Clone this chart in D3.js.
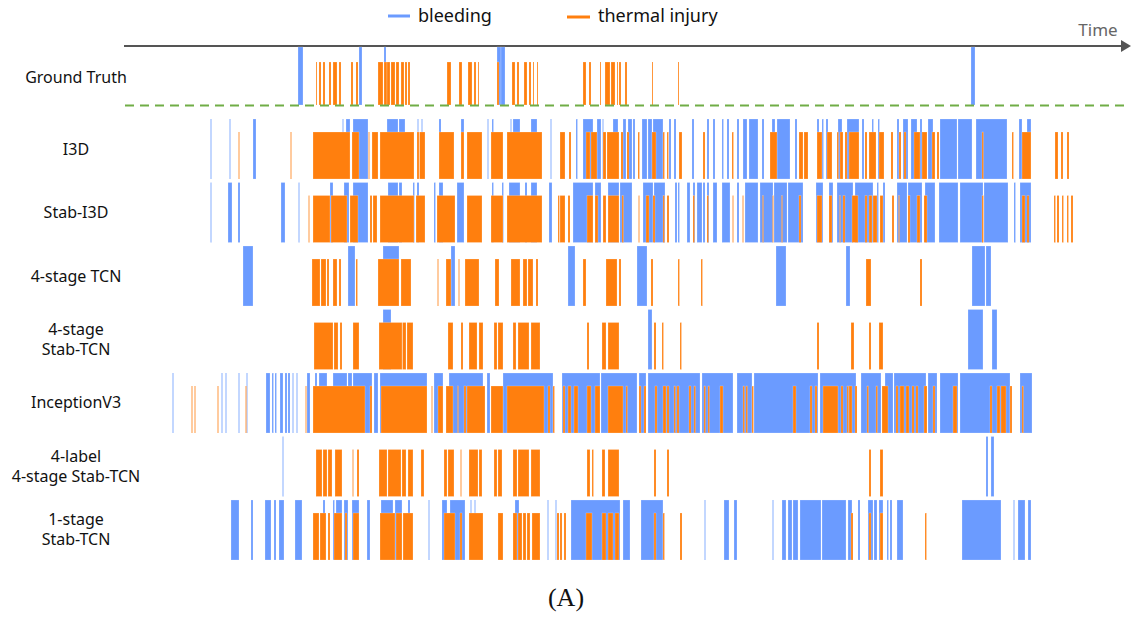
<!doctype html>
<html lang="en">
<head>
  <meta charset="utf-8">
  <style>
    body { margin: 0; background: #fff; }
    svg { display: block; }
  </style>
</head>
<body>
  <script src="https://d3js.org/d3.v7.min.js"></script>
  <div id="chart"></div>
  <script>
    // time unit = frame index (0..1000) along the arrow
    var gtBleed = [[173,178],[234,237],[259,261],[372,376],[376,380],[846,850]];
    var gtThermal = [[191,192],[194,196],[198,200],[204,206],[208,212],[214,216],[226,228],[231,233],[253,258],[259,262],[262,265],[266,270],[271,274],[276,279],[280,282],[283,285],[322,326],[334,337],[343,347],[349,351],[353,354],[372,374],[387,390],[392,394],[399,402],[404,406],[408,409],[412,413],[458,461],[464,466],[475,476],[480,485],[486,490],[492,493],[494,496],[500,502],[527,528],[553,554]];

    var i3dBleed = [[85.5,86.5],[104.5,105.5],[128,131],[217.5,218.5],[221,225],[228,243],[262,273],[274,280],[292.5,293.5],[296.5,297.5],[314,316],[336,339],[362.5,363.5],[367,368.5],[385.5,386.5],[388,395],[406,412],[425.5,426.5],[451,452.5],[458,468],[472,476],[477.5,478.5],[488,493],[498,501],[503,507],[508,510],[517,522],[523,527],[528,538],[544,546],[549,551],[567,569],[582,584],[588,590],[597,598.5],[602,604],[612,614],[618,622],[624,633],[637,639],[647,650],[652,665],[670,672],[692,694],[697,698.5],[701,703],[713,717],[722,734],[737,739],[747,748.5],[753,754.5],[772,774],[778,783],[786,792],[795,797],[803,808],[815,832],[833,847],[851,882],[894,897],[902,906]];
    var i3dThermal = [[113.5,114.5],[165.5,166.5],[188,225],[227,234],[243.5,244.5],[247,253],[255,289],[292,294],[294.5,300],[314,329],[336,339],[342,357],[366,378],[382,417],[435,440],[444,446],[461,465],[466,472],[478,481],[482,494],[496,498],[502,504],[513,514.5],[527,531],[538,539.5],[542,543.5],[554,557],[578,580],[607,608.5],[645,652],[674,678],[679,683],[692,697],[702,707],[712,713.5],[715,718],[720,722],[724,734],[740,742],[744,751],[754,759],[766,768],[774,776],[779,781],[789,795],[797,802],[807,810],[812,814],[857,858.5],[887,888.5],[897,906],[930,933],[936,938],[942,944]];

    var stabI3dBleed = [[85.5,86.5],[103,107],[113,115],[156,160],[173.5,174.5],[205,208],[219,224],[228,243],[263,273],[274,277],[288,289.5],[292,294],[309,310.5],[314,318],[332,339],[367,368.5],[377,378.5],[384,395],[400,402],[406,412],[424,427],[448,468],[470,476],[483,494],[495,507],[518,528],[529,540],[550,552],[553,554.5],[562,565],[568,570],[572,577],[578,580],[582,584],[588,592],[597,605],[612,614],[620,633],[635,648],[649,662],[663,678],[691,698],[704,708],[712,728],[730,748],[752,753.5],[758,760],[772,782],[783,797],[800,810],[814,833],[835,858],[859,883],[889,890.5],[895,906]];
    var stabI3dThermal = [[183.5,184.5],[188,205],[206,222],[225,233],[245,247],[248,252],[255,289],[291,300],[312,330],[342,357],[366,378],[382,417],[433,434.5],[435,440],[443,445],[462,468],[470,473],[478,481],[483,494],[497,498.5],[513.5,514.5],[521,524],[528,530],[538,539.5],[542,544],[568,569.5],[582,583.5],[607.5,608.5],[617.5,618.5],[637.5,638.5],[647.5,648.5],[656.5,657.5],[674,676],[692,697],[704,707],[714.5,715.5],[718,720],[727,733],[740,742],[744,747],[748,752],[755,758],[767,769],[773.5,774.5],[783,785],[792,795],[799,802],[857,858.5],[897,900],[902,904],[929,930.5],[932,934],[937,938.5],[942,943.5],[946,948]];

    var tcnBleed = [[118,128],[223,230],[258,274],[326,330],[443,450],[512,522],[651,661],[721,725],[847,860],[861,866]];
    var tcnThermal = [[187,195],[196,201],[202,204],[208,212],[214,216],[231,232.5],[253,274],[276,286],[312.5,313.5],[321,326],[333.5,334.5],[340,354],[370,374],[386,395],[398,402],[403,408],[411,413],[458,461],[481,492],[494,496],[526,528],[553,554.5],[576,577.5],[741,746],[795,797]];

    var stabTcnBleed = [[258,266],[523,527],[843,858],[867,872]];
    var stabTcnThermal = [[189,208],[209,213],[215,217],[228,234],[254,277],[277.5,281],[282,288],[323,328],[336,338],[344,352],[354,358],[369,372],[373,378],[388,391],[393,404],[406,415],[462,464],[477,481],[483,494],[529,531],[537,538.5],[555,556.5],[692,694],[726,729],[744,746],[754,758]];

    var incBleed = [[47.5,48.5],[96.5,97.5],[100.5,101.5],[113.5,114.5],[121.5,122.5],[141,145],[147,148.5],[150,151.5],[155,158],[160,162],[163,165],[167.5,168.5],[171.5,172.5],[182,185],[190,192],[194,202],[208,222],[223,227],[228,247],[249,253],[255,302],[309,318],[324,358],[362,365],[378,428],[437,475],[476,512],[514,521],[523,575],[577,608],[612,627],[629,693],[695,731],[736,756],[760,768],[769,801],[803,812],[815,833],[835,885],[895,907]];
    var incThermal = [[66.5,67.5],[69.5,70.5],[92.5,93.5],[120.5,121.5],[180.5,181.5],[188,240],[245,247],[256,302],[306.5,307.5],[313,318],[321,328],[332.5,333.5],[339,341],[342,360],[366,378],[382,419],[423,425],[428,429.5],[438,440],[443,446],[449,453],[462,466],[470,475],[483,498],[501,502.5],[514,516],[519,521],[530,532],[538,541],[542,544],[549,550.5],[552,554],[564,566],[569,570.5],[579,580.5],[583,584.5],[595,598],[618,619.5],[621,622.5],[627,628.5],[668,671],[685,687],[690,692],[698,713],[716,718],[722,723.5],[724,727],[730,732],[742,743.5],[751,752.5],[757,763],[771,773],[775,779],[781,784],[787,789],[791,793],[799,802],[808,810],[828,832],[865,867],[872,875],[876,881],[885,887],[897,898.5]];

    var label4Bleed = [[157.5,158.5],[861,863],[866,869]];
    var label4Thermal = [[191,197],[198,202],[203,207],[210,217],[227.5,228.5],[232,234],[254,262],[263,276],[277,281],[283,288],[296,299],[319,322],[323,329],[335.5,336.5],[344,353],[354,357],[369,372],[373,377],[388,392],[393,404],[406,415],[462,465],[467,468.5],[477,480],[483,494],[529,531],[542,544],[744,746],[755,758]];

    var oneStageBleed = [[106,114],[126,128],[140,146],[149,151],[154,159],[170,177],[198,200],[208,209.5],[211,217],[219,223],[227,234],[242,245],[256,268],[270,277],[283,285],[303.5,304.5],[317,322],[325,340],[345.5,346.5],[349.5,350.5],[390,394],[422.5,423.5],[430.5,431.5],[446,495],[498,505],[516,538],[579.5,580.5],[599,604],[609,612],[647.5,648.5],[657,661],[663,667],[668,673],[675,696],[697,721],[723,727],[733,735],[743,748],[749,752],[754,758],[762,763.5],[765,767],[772,778],[837,876],[888.5,889.5],[893,900],[903,906]];
    var oneStageThermal = [[188,194],[195,201],[203,205],[209,217],[220,222],[228,234],[255,270],[271,277],[278,288],[319,330],[335,337],[344,358],[373,378],[388,392],[393,397],[398,401],[402,405],[407,415],[432,434],[435,437],[439,441],[461,467],[477,481],[483,488],[490,494],[529,531],[538,539.5],[555,557],[726,728],[744,746],[755,758],[800,801.5]];

    var modelNames = ["I3D", "Stab-I3D", "4-stage TCN", "4-stage\nStab-TCN", "InceptionV3", "4-label\n4-stage Stab-TCN", "1-stage\nStab-TCN"];
    var modelBleed = [i3dBleed, stabI3dBleed, tcnBleed, stabTcnBleed, incBleed, label4Bleed, oneStageBleed];
    var modelThermal = [i3dThermal, stabI3dThermal, tcnThermal, stabTcnThermal, incThermal, label4Thermal, oneStageThermal];

    var blue = "#6b9bff", orange = "#ff7f0e";
    var width = 1132, height = 617;

    var svg = d3.select("#chart").append("svg")
      .attr("width", width)
      .attr("height", height)
      .style("font-family", "'Noto Sans', 'Open Sans', sans-serif");

    var x = d3.scaleLinear().domain([0, 1000]).range([125, 1125]);
    var y = d3.scaleBand().domain(modelNames).range([119, 560]).paddingInner(0.055);
    var orangeDrop = 13;

    // legend
    var legend = svg.append("g");
    legend.append("line").attr("x1", 388).attr("x2", 410).attr("y1", 16).attr("y2", 16)
      .attr("stroke", blue).attr("stroke-width", 3);
    legend.append("text").attr("x", 418).attr("y", 22).text("bleeding")
      .attr("font-size", 18).attr("fill", "#111");
    legend.append("line").attr("x1", 567).attr("x2", 590).attr("y1", 17).attr("y2", 17)
      .attr("stroke", orange).attr("stroke-width", 3);
    legend.append("text").attr("x", 598).attr("y", 22).text("thermal injury")
      .attr("font-size", 18).attr("fill", "#111");

    // time arrow
    svg.append("line").attr("x1", 124).attr("x2", 1123).attr("y1", 46).attr("y2", 46)
      .attr("stroke", "#555").attr("stroke-width", 2);
    svg.append("path").attr("d", "M1131,46 L1121,40 L1121,52 Z").attr("fill", "#555");
    svg.append("text").attr("x", 1098).attr("y", 36).attr("text-anchor", "middle")
      .attr("font-size", 17).attr("fill", "#666").text("Time");

    function drawSegs(g, segs, color, top, bottom) {
      g.selectAll(null).data(segs).enter().append("rect")
        .attr("x", function(d) { return x(d[0]); })
        .attr("width", function(d) { return Math.max(1, x(d[1]) - x(d[0])); })
        .attr("y", top)
        .attr("height", bottom - top)
        .attr("fill", color)
        .attr("stroke", "#fff")
        .attr("stroke-opacity", 0.35)
        .attr("stroke-width", 0.6);
    }

    // ground truth
    var gt = svg.append("g");
    drawSegs(gt, gtBleed, blue, 47, 105);
    drawSegs(gt, gtThermal, orange, 62, 105);
    svg.append("text").attr("x", 76).attr("y", 83).attr("text-anchor", "middle")
      .attr("font-size", 16).attr("fill", "#111").text("Ground Truth");

    svg.append("line").attr("x1", 125).attr("x2", 1125).attr("y1", 105.5).attr("y2", 105.5)
      .attr("stroke", "#70ad47").attr("stroke-width", 2).attr("stroke-dasharray", "9,6");

    // model rows, two-line labels as separate texts
    modelNames.forEach(function(name, i) {
      var top = y(name), bottom = y(name) + y.bandwidth();
      var g = svg.append("g");
      drawSegs(g, modelBleed[i], blue, top, bottom);
      drawSegs(g, modelThermal[i], orange, top + orangeDrop, bottom);

      var lines = name.split("\n");
      var cy = top + y.bandwidth() / 2;
      lines.forEach(function(l, j) {
        svg.append("text").attr("text-anchor", "middle")
          .attr("font-size", 16).attr("fill", "#111")
          .attr("x", 76)
          .attr("y", cy + 5.5 + (j - (lines.length - 1) / 2) * 20)
          .text(l);
      });
    });

    svg.append("text").attr("x", 566).attr("y", 606).attr("text-anchor", "middle")
      .attr("font-family", "'Liberation Serif', 'DejaVu Serif', serif")
      .attr("font-size", 26).attr("fill", "#111").text("(A)");
  </script>
</body>
</html>
